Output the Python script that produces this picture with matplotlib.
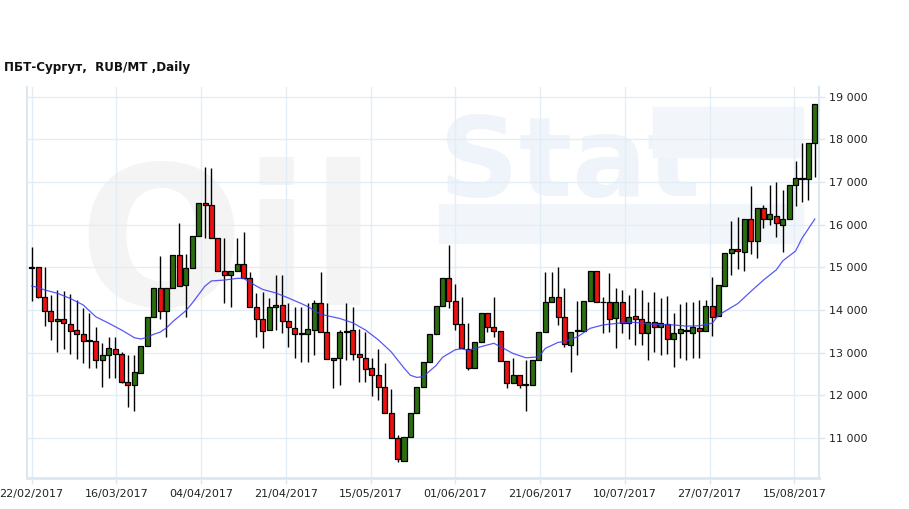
import numpy as np
import matplotlib.pyplot as plt
from matplotlib.patches import Rectangle

# Tytuł i podpisy osi
title = 'ПБТ-Сургут,  RUB/MT ,Daily'
date_labels = ['22/02/2017', '16/03/2017', '04/04/2017', '21/04/2017', '15/05/2017',
               '01/06/2017', '21/06/2017', '10/07/2017', '27/07/2017', '15/08/2017']
price_ticks = [11000, 12000, 13000, 14000, 15000, 16000, 17000, 18000, 19000]

# Notowania dzienne
opens = [14980, 15010, 14310, 13980, 13740, 13780, 13660, 13520, 13430, 13270,
         13270, 12830, 12940, 13090, 12980, 12320, 12240, 12520, 13160, 13830,
         14520, 13980, 14520, 15290, 14580, 14980, 15730, 16510, 16470, 15680,
         14920, 14820, 14920, 15070, 14760, 14060, 13780, 13530, 14060, 14120,
         13740, 13570, 13450, 13430, 13530, 14170, 13480, 12830, 12870, 13490,
         13520, 12980, 12870, 12630, 12480, 12190, 11580, 10990, 10470, 11030,
         11580, 12190, 12770, 13430, 14090, 14760, 14220, 13660, 13080, 12630,
         13260, 13920, 13610, 13510, 12810, 12280, 12480, 12240, 12240, 12830,
         13480, 14180, 14310, 13830, 13180, 13510, 13510, 14220, 14920, 14180,
         14180, 13820, 14180, 13690, 13870, 13780, 13470, 13720, 13610, 13660,
         13310, 13470, 13510, 13470, 13570, 13510, 14090, 13870, 14570, 15330,
         15420, 15360, 16120, 15610, 16400, 16120, 16210, 16000, 16120, 16930,
         17070, 17070, 17900]
closes = [15010, 14310, 13980, 13740, 13780, 13690, 13510, 13430, 13270, 13300,
          12830, 12940, 13100, 12980, 12320, 12240, 12540, 13160, 13830, 14520,
          13980, 14520, 15290, 14550, 14980, 15730, 16510, 16460, 15680, 14920,
          14820, 14920, 15070, 14760, 14060, 13780, 13510, 14060, 14120, 13740,
          13590, 13430, 13440, 13550, 14170, 13480, 12840, 12870, 13480, 13510,
          12980, 12890, 12610, 12480, 12190, 11580, 10990, 10500, 11030, 11580,
          12190, 12770, 13430, 14090, 14760, 14220, 13660, 13100, 12630, 13260,
          13920, 13610, 13510, 12810, 12280, 12480, 12240, 12240, 12830, 13480,
          14180, 14310, 13840, 13200, 13490, 13520, 14220, 14920, 14180, 14190,
          13800, 14180, 13690, 13840, 13790, 13470, 13720, 13610, 13690, 13310,
          13470, 13550, 13510, 13590, 13510, 14090, 13840, 14580, 15330, 15420,
          15380, 16120, 15610, 16400, 16120, 16250, 16030, 16120, 16930, 17080,
          17080, 17900, 18820]
highs = [15480, 15010, 15010, 14350, 14470, 14440, 14370, 14230, 14050, 13920,
         13610, 13220, 13360, 13360, 13020, 12940, 12940, 13160, 13830, 14520,
         15270, 14520, 15290, 16030, 15320, 15730, 16510, 17360, 17320, 15680,
         15680, 14920, 15680, 15820, 14880, 14390, 14430, 14270, 14820, 14820,
         14160, 14080, 14080, 14160, 14230, 14880, 14160, 12870, 13520, 14160,
         14080, 13550, 13480, 12870, 13080, 12750, 12160, 11070, 11030, 11580,
         12190, 12770, 13430, 14090, 14760, 15520, 14600, 14310, 13690, 13260,
         13920, 13920, 14310, 13510, 12810, 12870, 12480, 12830, 12830, 13480,
         14900, 14900, 15010, 14520, 13490, 14220, 14220, 14920, 14920, 14310,
         14870, 14520, 14470, 14350, 14520, 14470, 14180, 14430, 14290, 14330,
         13920, 14130, 14180, 14180, 14230, 14230, 14780, 14580, 15330, 16080,
         16170, 16120, 16910, 16400, 16470, 16930, 17000, 16810, 16930, 17490,
         17900, 17900, 18820]
lows = [14220, 14270, 13630, 13300, 13020, 13090, 12980, 12850, 12750, 12630,
        12630, 12200, 12410, 12410, 12280, 11730, 11630, 12520, 13160, 13830,
        13790, 13370, 14520, 14550, 13830, 14980, 15730, 15680, 15680, 14920,
        14170, 14080, 14920, 14760, 14060, 13370, 13100, 13530, 13530, 13450,
        13130, 12870, 12790, 12790, 12940, 13480, 12840, 12180, 12240, 12830,
        12830, 12320, 12320, 11990, 11890, 11580, 10990, 10450, 10470, 11030,
        11580, 12190, 12770, 13430, 14090, 14040, 13530, 13100, 12590, 12630,
        13260, 13480, 13370, 12810, 12180, 12280, 12180, 11640, 12240, 12830,
        13480, 14180, 13650, 13140, 12540, 12940, 13510, 14220, 14180, 13470,
        13490, 13120, 13470, 13330, 13190, 13180, 12830, 13020, 12940, 12980,
        12670, 12870, 12830, 12870, 12880, 13510, 13400, 13870, 14570, 14820,
        14970, 14920, 15300, 15220, 15910, 16000, 15720, 15360, 16120, 16430,
        16520, 16580, 17120]

ma_days = [0, 1, 2, 4, 6, 8, 10, 12, 14, 16, 17, 18, 19, 20, 21, 22, 24, 25, 27, 28,
           30, 32, 33, 35, 36, 38, 40, 42, 43, 45, 48, 50, 52, 54, 56, 57, 58, 59, 60, 61,
           63, 64, 66, 67, 68, 70, 72, 73, 75, 77, 79, 80, 82, 83, 85, 87, 89, 92, 94, 97,
           100, 102, 104, 106, 107, 110, 112, 114, 116, 117, 119, 120, 122]
ma_values = [14560, 14530, 14470, 14390, 14270, 14120, 13840, 13690, 13530, 13350,
             13320, 13360, 13430, 13480, 13580, 13730, 13980, 14160, 14560, 14680,
             14700, 14740, 14740, 14560, 14480, 14400, 14280, 14150, 14080, 13900,
             13800, 13700, 13530, 13300, 13020, 12830, 12640, 12470, 12420, 12440,
             12700, 12890, 13070, 13090, 13050, 13140, 13220, 13140, 12980, 12880,
             12900, 13100, 13240, 13260, 13370, 13570, 13650, 13700, 13710, 13660,
             13650, 13620, 13630, 13690, 13880, 14150, 14430, 14700, 14940, 15150,
             15380, 15680, 16130]

green = '#2b6e10'
red = '#ee1111'
pale = '#dbe7f2'

fig = plt.figure(figsize=(9.09, 5.09), dpi=100)
ax = fig.add_axes([0.0297, 0.061, 0.8713, 0.768])

# znak wodny (blady)
ax.text(0.065, 0.58, 'Oil', transform=ax.transAxes, fontsize=140, fontweight='bold',
        color='#f4f4f4', ha='left', va='center', zorder=0)
ax.text(0.52, 0.80, 'Stat', transform=ax.transAxes, fontsize=80, fontweight='bold',
        color='#eef4f9', ha='left', va='center', zorder=0)
ax.add_patch(Rectangle((0.52, 0.60), 0.46, 0.10, transform=ax.transAxes,
                       color='#f2f6fb', zorder=0))
ax.add_patch(Rectangle((0.79, 0.82), 0.19, 0.13, transform=ax.transAxes,
                       color='#f2f6fb', zorder=0))

x = np.arange(len(opens))
o = np.array(opens)
c = np.array(closes)
up = c >= o

ax.vlines(x, lows, highs, color='black', lw=1, zorder=2)
bottom = np.minimum(o, c)
height = np.maximum(np.abs(c - o), 15)
ax.bar(x[up], height[up], bottom=bottom[up], width=0.78, color=green,
       edgecolor='black', lw=0.9, zorder=3)
ax.bar(x[~up], height[~up], bottom=bottom[~up], width=0.78, color=red,
       edgecolor='black', lw=0.9, zorder=3)

ax.plot(ma_days, ma_values, color='#3b3bf5', lw=0.9, alpha=0.85, zorder=4)

ax.set_xlim(-0.73, 122.65)
ax.set_ylim(10065, 19222)

ax.set_xticks(np.arange(len(date_labels)) * 13.2)
ax.set_xticklabels(date_labels)
ax.set_yticks(price_ticks)
ax.set_yticklabels(['{:,}'.format(v).replace(',', ' ') for v in price_ticks])
ax.yaxis.tick_right()
ax.tick_params(axis='both', colors=pale, labelcolor='#222222', labelsize=8, length=4, width=1)
ax.tick_params(axis='x', pad=4)
ax.tick_params(axis='y', pad=3)

ax.grid(True, color='#e3edf6', lw=1, zorder=1)
ax.set_axisbelow(True)
for side in ['left', 'right']:
    ax.spines[side].set_color(pale)
    ax.spines[side].set_linewidth(1.5)
ax.spines['bottom'].set_color(pale)
ax.spines['bottom'].set_linewidth(2)
ax.spines['top'].set_visible(False)

fig.text(0.004, 1 - 68 / 509, title, fontsize=8.6, fontweight='bold',
         color='#111111', ha='left', va='center')

fig.savefig('out.png', dpi=100)
